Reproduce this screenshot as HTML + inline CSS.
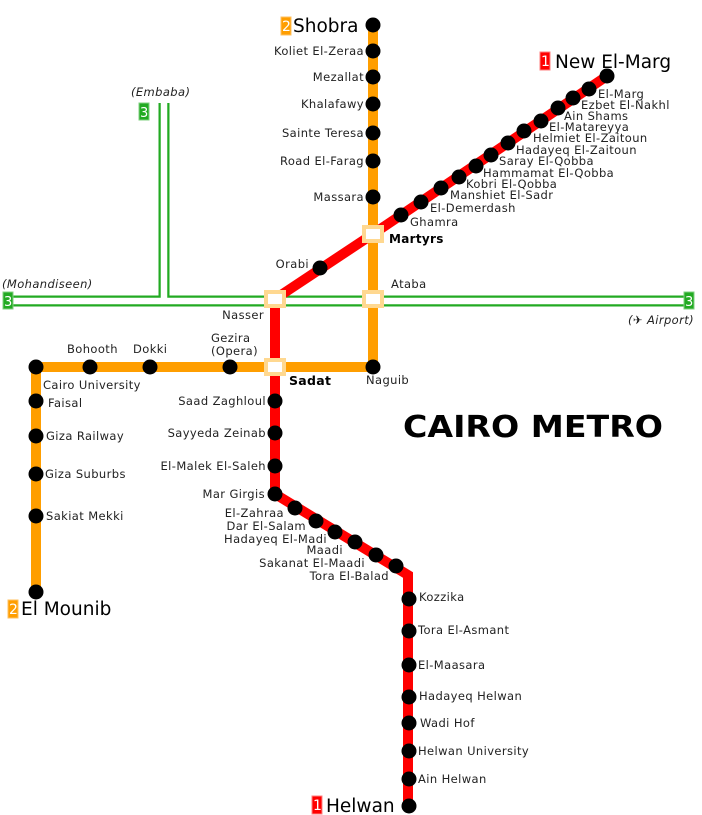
<!DOCTYPE html>
<html><head><meta charset="utf-8"><style>
html,body{margin:0;padding:0;background:#fff;width:702px;height:815px;overflow:hidden}
svg text{font-family:"DejaVu Sans","Liberation Sans",sans-serif;font-size:11.5px;letter-spacing:0.4px;fill:#222}
svg text.big{font-size:18.5px;fill:#000;letter-spacing:0}
</style></head><body>
<svg width="702" height="815" viewBox="0 0 702 815" xmlns="http://www.w3.org/2000/svg">
<!-- line 3 green -->
<path d="M12 301 H688 M164 103 V301" stroke="#22aa22" stroke-width="11" fill="none"/>
<path d="M12 301 H688 M164 101 V301" stroke="#fff" stroke-width="6.5" fill="none"/>
<!-- line 2 orange -->
<path d="M373 25 V367 H36 V592" stroke="#ff9e00" stroke-width="10" fill="none"/>
<!-- line 1 red -->
<path d="M607 76 L373 234 L275 299 V494 L408 575 V806" stroke="#ff0000" stroke-width="10" fill="none" stroke-linejoin="miter"/>
<g fill="#000">
<circle cx="373" cy="25" r="7.5"/><circle cx="373" cy="51" r="7.5"/><circle cx="373" cy="77" r="7.5"/><circle cx="373" cy="104" r="7.5"/><circle cx="373" cy="133" r="7.5"/><circle cx="373" cy="161" r="7.5"/><circle cx="373" cy="197" r="7.5"/><circle cx="373" cy="367" r="7.5"/>
<circle cx="230" cy="367" r="7.5"/><circle cx="150" cy="367" r="7.5"/><circle cx="90" cy="367" r="7.5"/><circle cx="36" cy="367" r="7.5"/>
<circle cx="36" cy="401" r="7.5"/><circle cx="36" cy="436" r="7.5"/><circle cx="36" cy="474" r="7.5"/><circle cx="36" cy="516" r="7.5"/><circle cx="36" cy="592" r="7.5"/>
<circle cx="607" cy="76" r="7.5"/><circle cx="589" cy="89" r="7.5"/><circle cx="573" cy="98" r="7.5"/><circle cx="558" cy="108" r="7.5"/><circle cx="541" cy="121" r="7.5"/><circle cx="524" cy="131" r="7.5"/><circle cx="508" cy="143" r="7.5"/><circle cx="491" cy="155" r="7.5"/><circle cx="476" cy="166" r="7.5"/><circle cx="459" cy="177" r="7.5"/><circle cx="441" cy="188" r="7.5"/><circle cx="421" cy="202" r="7.5"/><circle cx="401" cy="215" r="7.5"/>
<circle cx="320" cy="268" r="7.5"/>
<circle cx="275" cy="401" r="7.5"/><circle cx="275" cy="433" r="7.5"/><circle cx="275" cy="466" r="7.5"/><circle cx="275" cy="494" r="7.5"/>
<circle cx="295" cy="508" r="7.5"/><circle cx="316" cy="521" r="7.5"/><circle cx="335" cy="532" r="7.5"/><circle cx="355" cy="542" r="7.5"/><circle cx="376" cy="555" r="7.5"/><circle cx="396" cy="566" r="7.5"/>
<circle cx="409" cy="599" r="7.5"/><circle cx="409" cy="631" r="7.5"/><circle cx="409" cy="665" r="7.5"/><circle cx="409" cy="697" r="7.5"/><circle cx="409" cy="723" r="7.5"/><circle cx="409" cy="751" r="7.5"/><circle cx="409" cy="779" r="7.5"/><circle cx="409" cy="806" r="7.5"/>
</g>
<g fill="#fff" stroke="#ffd890" stroke-width="4">
<rect x="364" y="227" width="18" height="14"/><rect x="266" y="292" width="18" height="14"/><rect x="364" y="292" width="18" height="14"/><rect x="266" y="360" width="18" height="14"/>
</g>
<rect x="281" y="17" width="10" height="18" fill="#ff9e00" stroke="#ffc060"/><text x="282" y="31" style="fill:#fff;font-size:14px;letter-spacing:0">2</text>
<text x="293" y="32" class="big">Shobra</text>
<rect x="540" y="52" width="10" height="18" fill="#ff0000" stroke="#ff8080"/><text x="541" y="66" style="fill:#fff;font-size:14px;letter-spacing:0">1</text>
<text x="555" y="68" class="big">New El-Marg</text>
<rect x="8" y="600" width="10" height="18" fill="#ff9e00" stroke="#ffc060"/><text x="9" y="614" style="fill:#fff;font-size:14px;letter-spacing:0">2</text>
<text x="21" y="615" class="big">El Mounib</text>
<rect x="312" y="796" width="10" height="18" fill="#ff0000" stroke="#ff8080"/><text x="313" y="810" style="fill:#fff;font-size:14px;letter-spacing:0">1</text>
<text x="326" y="812" class="big">Helwan</text>
<rect x="3" y="292" width="10" height="17" fill="#22aa22" stroke="#80d080"/><text x="4" y="306" style="fill:#fff;font-size:13px;letter-spacing:0">3</text>
<rect x="684" y="292" width="10" height="17" fill="#22aa22" stroke="#80d080"/><text x="685" y="306" style="fill:#fff;font-size:13px;letter-spacing:0">3</text>
<rect x="139" y="103" width="10" height="17" fill="#22aa22" stroke="#80d080"/><text x="140" y="117" style="fill:#fff;font-size:13px;letter-spacing:0">3</text>
<text x="131" y="96" style="font-style:italic">(Embaba)</text>
<text x="2" y="288" style="font-style:italic">(Mohandiseen)</text>
<text x="628" y="324" style="font-style:italic">(✈ Airport)</text>
<g text-anchor="end">
<text x="364" y="55">Koliet El-Zeraa</text><text x="364" y="81">Mezallat</text><text x="364" y="108">Khalafawy</text><text x="364" y="137">Sainte Teresa</text><text x="364" y="165">Road El-Farag</text><text x="364" y="201">Massara</text>
<text x="309" y="268">Orabi</text><text x="264" y="319">Nasser</text>
<text x="266" y="405">Saad Zaghloul</text><text x="266" y="437">Sayyeda Zeinab</text><text x="266" y="470">El-Malek El-Saleh</text><text x="265" y="498">Mar Girgis</text>
<text x="284" y="517">El-Zahraa</text><text x="306" y="530">Dar El-Salam</text><text x="327" y="543">Hadayeq El-Madi</text><text x="343" y="554">Maadi</text><text x="365" y="567">Sakanat El-Maadi</text><text x="389" y="580">Tora El-Balad</text>
</g>
<text x="389" y="243" style="font-weight:bold;font-size:12px;fill:#000;letter-spacing:0.3px">Martyrs</text>
<text x="391" y="288">Ataba</text>
<text x="366" y="384">Naguib</text>
<text x="289" y="385" style="font-weight:bold;font-size:12.5px;fill:#000;letter-spacing:0.3px">Sadat</text>
<text x="67" y="353">Bohooth</text><text x="133" y="353">Dokki</text>
<text x="211" y="342">Gezira</text><text x="211" y="355">(Opera)</text>
<text x="43" y="389">Cairo University</text>
<text x="48" y="407">Faisal</text><text x="46" y="440">Giza Railway</text><text x="45" y="478">Giza Suburbs</text><text x="46" y="520">Sakiat Mekki</text>
<text x="598" y="98">El-Marg</text><text x="581" y="109">Ezbet El-Nakhl</text><text x="564" y="120">Ain Shams</text><text x="549" y="131">El-Matareyya</text><text x="533" y="142">Helmiet El-Zaitoun</text><text x="516" y="154">Hadayeq El-Zaitoun</text><text x="499" y="165">Saray El-Qobba</text><text x="483" y="177">Hammamat El-Qobba</text><text x="466" y="188">Kobri El-Qobba</text><text x="450" y="199">Manshiet El-Sadr</text><text x="430" y="212">El-Demerdash</text><text x="410" y="226">Ghamra</text>
<text x="419" y="601">Kozzika</text><text x="418" y="634">Tora El-Asmant</text><text x="418" y="669">El-Maasara</text><text x="419" y="700">Hadayeq Helwan</text><text x="420" y="727">Wadi Hof</text><text x="418" y="755">Helwan University</text><text x="418" y="783">Ain Helwan</text>
<text x="403" y="437" textLength="260" lengthAdjust="spacingAndGlyphs" style="font-weight:bold;font-size:30px;fill:#000;letter-spacing:0">CAIRO METRO</text>
</svg>
</body></html>
